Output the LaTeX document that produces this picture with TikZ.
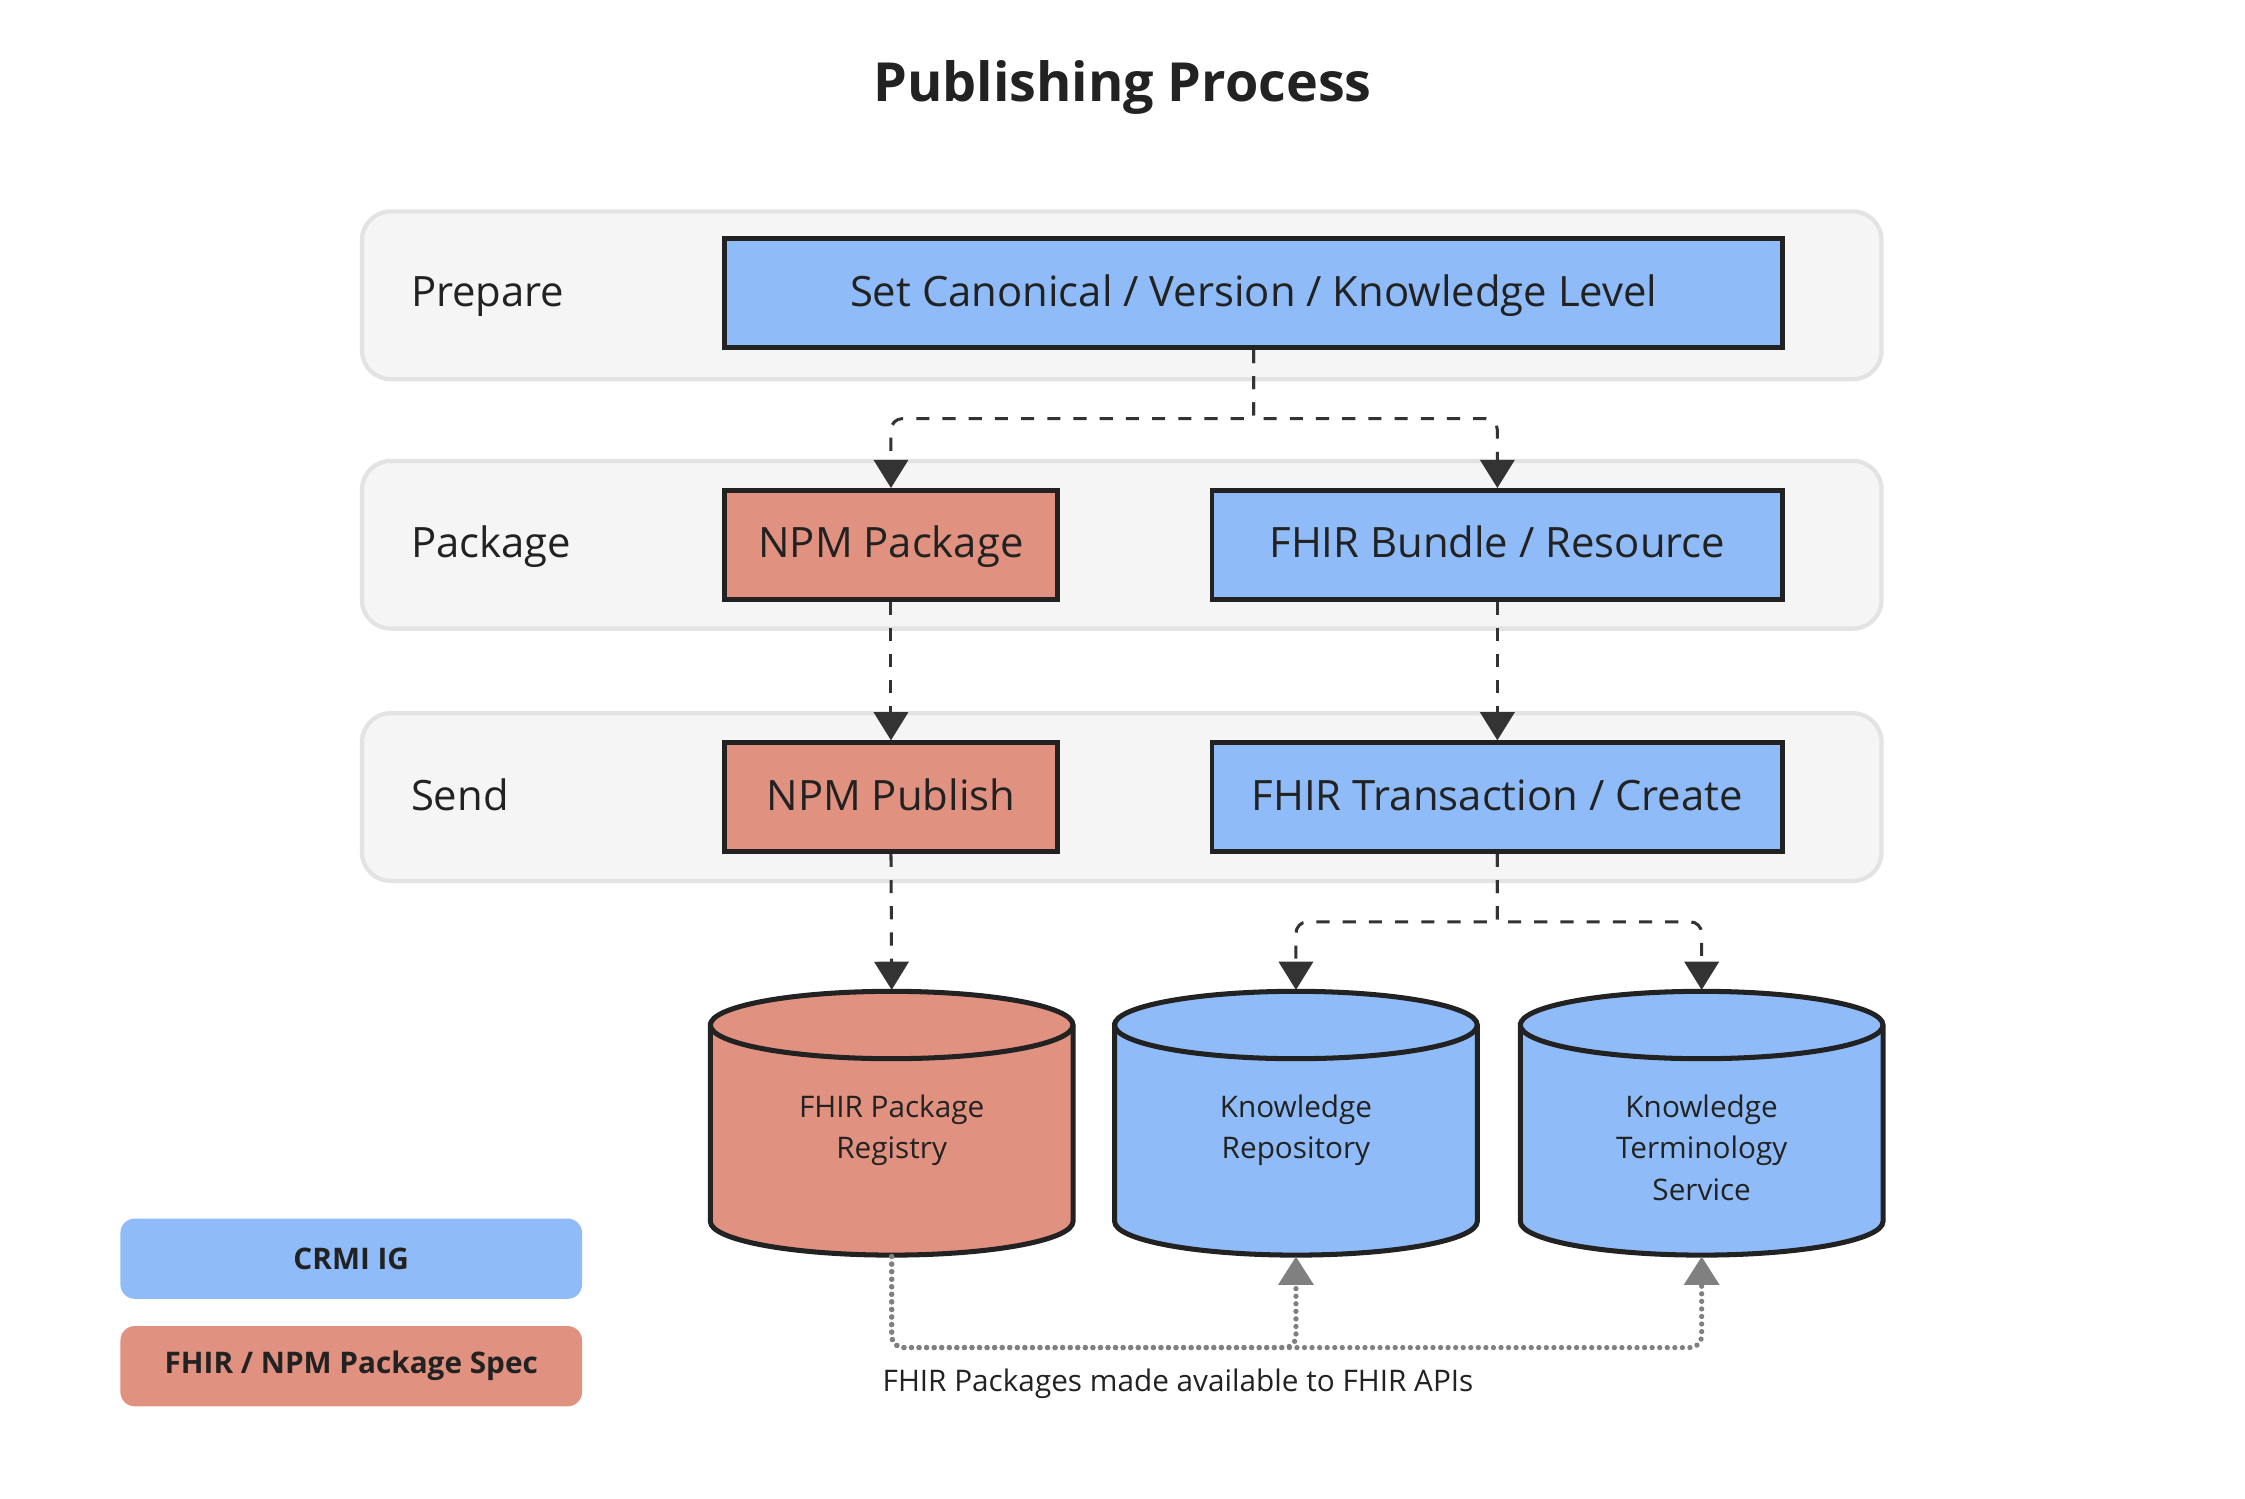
\documentclass[tikz,border=0pt]{standalone}
\usepackage{fontspec}
\setmainfont{Open Sans}
\usetikzlibrary{arrows.meta}
\definecolor{crmi}{RGB}{143,188,249}
\definecolor{npm}{RGB}{225,145,128}
\definecolor{lanebg}{RGB}{245,245,245}
\definecolor{laneline}{RGB}{227,227,227}
\definecolor{ink}{RGB}{34,34,34}
\definecolor{flowline}{RGB}{51,51,51}
\definecolor{availline}{RGB}{128,128,128}

\begin{document}
\begin{tikzpicture}[
  lane/.style={draw=laneline, line width=0.85pt, fill=lanebg, rounded corners=0.2cm, minimum width=10.6cm, minimum height=1.17cm},
  lanetext/.style={anchor=west, inner sep=0, text height=0.72em, text depth=0.2em, text=ink, font=\fontsize{8.3}{10}\selectfont},
  stepbox/.style={draw=ink, line width=0.9pt, minimum height=0.76cm, text height=0.72em, text depth=0.2em, text=ink, font=\fontsize{8.3}{10}\selectfont},
  db/.style={draw=ink, line width=1pt},
  dbtext/.style={anchor=north, align=center, inner sep=0, text=ink, font=\fontsize{5.9}{8.25}\selectfont},
  key/.style={rounded corners=0.1cm, minimum width=3.22cm, minimum height=0.56cm, text=ink, font=\bfseries\fontsize{5.9}{7}\selectfont},
  flow/.style={draw=flowline, line width=0.6pt, dash pattern=on 2.6pt off 2.6pt, -{Triangle[length=5.6pt,width=6.8pt]}},
  avail/.style={draw=availline, line width=1.05pt, line cap=round, dash pattern=on 0pt off 1.5pt, -{Triangle[length=5.6pt,width=6.8pt,fill=availline]}}
]
\useasboundingbox (0,0) rectangle (15.66,-10.45);

\node [text=ink, font=\bfseries\fontsize{10.7}{12}\selectfont] (title) at (7.83,-0.61) {Publishing Process};

\node [lane] (lprepare) at (7.825,-2.06) {};
\node [lane] (lpackage) at (7.825,-3.80) {};
\node [lane] (lsend) at (7.825,-5.56) {};
\node [lanetext] (tprepare) at (2.86,-2.045) {Prepare};
\node [lanetext] (tpackage) at (2.86,-3.80) {Package};
\node [lanetext] (tsend) at (2.86,-5.56) {Send};

\node [stepbox, fill=crmi, minimum width=7.38cm] (canon) at (8.745,-2.045) {Set Canonical / Version / Knowledge Level};
\node [stepbox, fill=npm, minimum width=2.32cm] (npmpkg) at (6.215,-3.80) {NPM Package};
\node [stepbox, fill=crmi, minimum width=3.98cm] (bundle) at (10.445,-3.80) {FHIR Bundle / Resource};
\node [stepbox, fill=npm, minimum width=2.32cm] (npmpub) at (6.215,-5.56) {NPM Publish};
\node [stepbox, fill=crmi, minimum width=3.98cm] (trans) at (10.445,-5.56) {FHIR Transaction / Create};

% storage cylinders
\foreach \x/\c/\n in {6.22/npm/registry, 9.04/crmi/repo, 11.87/crmi/termsrv} {
  \filldraw [db, fill=\c] (\x-1.265,-7.15) -- (\x-1.265,-8.52) arc (180:360:1.265 and 0.235) -- (\x+1.265,-7.15) arc (0:180:1.265 and 0.235) -- cycle;
  \draw [db] (\x-1.265,-7.15) arc (180:360:1.265 and 0.235);
  \coordinate (\n-top) at (\x,-6.905);
  \coordinate (\n-bot) at (\x,-8.765);
}
\node [dbtext] (tregistry) at (6.22,-7.63) {FHIR Package\\Registry};
\node [dbtext] (trepo) at (9.04,-7.63) {Knowledge\\Repository};
\node [dbtext] (ttermsrv) at (11.87,-7.63) {Knowledge\\Terminology\\Service};

\draw [flow] (canon.south) -- (canon.south |- 0,-2.92) [rounded corners=0.08cm] -| (npmpkg.north);
\draw [flow] (canon.south) -- (canon.south |- 0,-2.92) [rounded corners=0.08cm] -| (bundle.north);
\draw [flow] (npmpkg.south) -- (npmpub.north);
\draw [flow] (bundle.south) -- (trans.north);
\draw [flow] (npmpub.south) -- (registry-top);
\draw [flow] (trans.south) -- (trans.south |- 0,-6.43) [rounded corners=0.08cm] -| (repo-top);
\draw [flow] (trans.south) -- (trans.south |- 0,-6.43) [rounded corners=0.08cm] -| (termsrv-top);

\draw [avail, rounded corners=0.08cm] (registry-bot) |- (repo-bot |- 0,-9.40) -- (repo-bot);
\draw [avail, rounded corners=0.08cm] (registry-bot) |- (termsrv-bot |- 0,-9.40) -- (termsrv-bot);
\node [anchor=west, inner sep=0, text=ink, font=\fontsize{5.9}{7}\selectfont] (availtext) at (6.15,-9.65) {FHIR Packages made available to FHIR APIs};

\node [key, fill=crmi] (keycrmi) at (2.45,-8.78) {CRMI IG};
\node [key, fill=npm] (keynpm) at (2.45,-9.53) {FHIR / NPM Package Spec};
\end{tikzpicture}
\end{document}
